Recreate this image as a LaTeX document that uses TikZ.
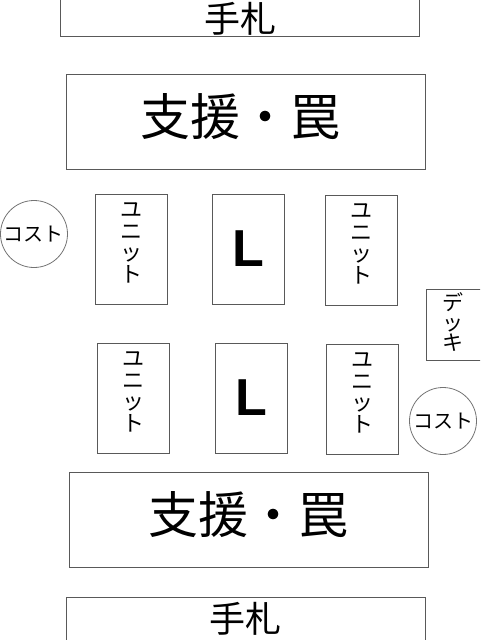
\documentclass[tikz,border=0pt]{standalone}
\usepackage{fontspec}
\setmainfont{Noto Sans CJK JP}
\newfontfamily\cardfont{Liberation Sans}
\usetikzlibrary{positioning}

\begin{document}
\begin{tikzpicture}[x=1pt,y=-1pt,
  zone/.style={draw=black!65,line width=1pt,inner sep=0pt,minimum width=359pt,minimum height=95pt},
  card/.style={draw=black!65,line width=1pt,inner sep=0pt,minimum width=72pt,minimum height=110pt,font=\cardfont\bfseries\fontsize{52}{52}\selectfont},
  cost/.style={draw=black!55,circle,line width=0.8pt,inner sep=0pt,minimum size=67pt,font=\fontsize{20}{20}\selectfont},
  tate/.style={align=center,inner sep=0pt,font=\fontsize{22}{21.5}\selectfont},
  big/.style={inner sep=0pt,font=\fontsize{50}{50}\selectfont},
  hand/.style={inner sep=0pt,font=\fontsize{36}{36}\selectfont}]
\useasboundingbox (0,0) rectangle (480,640);
\clip (0,0) rectangle (480,640);
% opponent side
\node[zone,minimum height=60pt] (hand1) at (239.5,6) {};
\node[hand] (hand1t) at (240,19) {手札};
\node[zone] (zone1) at (245.5,121.5) {};
\node[big] (zone1t) at (240.5,116.5) {支援・罠};
\node[cost] (cost1) at (34,234) {コスト};
\node[card] (unit1) at (131,249) {};
\node[tate,below=9pt of unit1.north] (unit1t) {ユ\\ニ\\ッ\\ト};
\node[card] (leader1) at (248,249) {L};
\node[card] (unit2) at (361,250) {};
\node[tate,below=9pt of unit2.north] (unit2t) {ユ\\ニ\\ッ\\ト};
% deck
\node[card,minimum width=90pt,minimum height=71pt] (deck) at (471,324.5) {};
\node[tate,font=\fontsize{21}{20}\selectfont] (deckt) at (453,322.5) {デ\\ッ\\キ};
% own side
\node[card] (unit3) at (133,398) {};
\node[tate,below=9pt of unit3.north] (unit3t) {ユ\\ニ\\ッ\\ト};
\node[card] (leader2) at (251,398) {L};
\node[card] (unit4) at (362,399) {};
\node[tate,below=9pt of unit4.north] (unit4t) {ユ\\ニ\\ッ\\ト};
\node[cost] (cost2) at (443,421) {コスト};
\node[zone] (zone2) at (248.5,519.5) {};
\node[big] (zone2t) at (248.5,515) {支援・罠};
\node[zone,minimum height=60pt] (hand2) at (245.5,627) {};
\node[hand] (hand2t) at (245.5,619) {手札};
\end{tikzpicture}
\end{document}
